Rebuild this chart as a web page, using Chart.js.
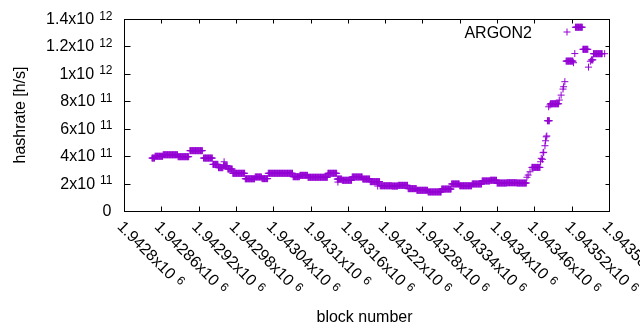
<!DOCTYPE html>
<html><head><meta charset="utf-8">
<script src="https://cdn.jsdelivr.net/npm/chart.js@4/dist/chart.umd.min.js"></script>
<style>html,body{margin:0;padding:0;background:#fff}#wrap{width:640px;height:330px}</style>
</head><body><div id="wrap"><canvas id="c" width="640" height="330"></canvas></div>
<script>
const BASE = 1942800;
const seriesName = "ARGON2";
// runs of consecutive blocks sharing one hashrate value (block offset from BASE, inclusive; hashrate in 1e9 h/s)
const segFrom = [45,50,63,87,106,128,143,152,160,167,175,195,211,222,232,272,283,296,328,343,351,367,384,396,412,431,441,457,471,489,511,527,540,560,576,589,600,616,632,656,681,686,711,726,738,752,755];
const segTo   = [49,62,86,104,126,142,151,159,166,174,194,210,221,231,271,282,295,327,342,350,366,383,395,411,430,440,456,470,488,510,526,539,559,575,588,599,615,631,647,669,684,699,722,737,746,754,769];
const segHash = [386,399,410,396,440,386,340,316,330,306,275,235,248,236,275,250,260,246,275,233,224,248,233,214,184,182,187,163,151,139,160,197,184,197,219,224,204,206,204,318,658,782,1093,1340,1179,1102,1147];
// single blocks (offset from BASE, hashrate in 1e9 h/s)
const ptBlock = [161,344,408,648,650,653,670,671,673,674,675,677,678,679,680,683,685,700,703,706,707,709,723,725,747,750,773];
const ptHash  = [359,211,182,246,262,286,359,384,377,425,428,476,512,541,547,760,773,809,845,889,906,943,1081,1148,1049,1092,1147];
// axis ticks
const xTickValues = [1942800,1942860,1942920,1942980,1943040,1943100,1943160,1943220,1943280,1943340,1943400,1943460,1943520,1943580];
const xTickMantissa = ["1.9428x10","1.94286x10","1.94292x10","1.94298x10","1.94304x10","1.9431x10","1.94316x10","1.94322x10","1.94328x10","1.94334x10","1.9434x10","1.94346x10","1.94352x10","1.94358x10"];
const xTickExp = "6";
const yTickValues = [0,2e11,4e11,6e11,8e11,1e12,1.2e12,1.4e12];
const yTickMantissa = ["0","2x10","4x10","6x10","8x10","1x10","1.2x10","1.4x10"];
const yTickExp = ["","11","11","11","11","12","12","12"];
const xTitle = "block number";
const yTitle = "hashrate [h/s]";

const COLOR = "#9400d3";
const FONT = "'Liberation Sans', Arial, sans-serif";
const FS = 16, SS = 12;

const points = [];
for (let i = 0; i < segFrom.length; i++) {
  for (let b = segFrom[i]; b <= segTo[i]; b++) points.push({x: BASE + b, y: segHash[i] * 1e9});
}
for (let i = 0; i < ptBlock.length; i++) points.push({x: BASE + ptBlock[i], y: ptHash[i] * 1e9});

const frame = {
  id: 'frame',
  afterDraw(chart) {
    const ctx = chart.ctx, a = chart.chartArea;
    const xs = chart.scales.x, ys = chart.scales.y;
    const L = Math.round(a.left) + 0.5, R = Math.round(a.right) + 0.5;
    const T = Math.round(a.top) + 0.5, B = Math.round(a.bottom) + 0.5;
    ctx.save();
    ctx.strokeStyle = '#000'; ctx.lineWidth = 1;
    ctx.strokeRect(L, T, R - L, B - T);
    ctx.beginPath();
    yTickValues.forEach(v => {
      const y = Math.round(ys.getPixelForValue(v)) + 0.5;
      ctx.moveTo(L, y); ctx.lineTo(L + 6, y);
      ctx.moveTo(R, y); ctx.lineTo(R - 4, y);
    });
    xTickValues.forEach(v => {
      const x = Math.round(xs.getPixelForValue(v)) + 0.5;
      ctx.moveTo(x, B); ctx.lineTo(x, B - 5);
      ctx.moveTo(x, T); ctx.lineTo(x, T + 4);
    });
    ctx.stroke();
    ctx.fillStyle = '#000';
    // y tick labels
    yTickValues.forEach((v, i) => {
      const y = ys.getPixelForValue(v);
      const right = 112.5;
      ctx.textBaseline = 'alphabetic';
      ctx.textAlign = 'right';
      if (yTickExp[i]) {
        ctx.font = SS + 'px ' + FONT;
        ctx.fillText(yTickExp[i], right, y + 0.5);
        const w = ctx.measureText(yTickExp[i]).width;
        ctx.font = FS + 'px ' + FONT;
        ctx.fillText(yTickMantissa[i], right - w - 5, y + 5);
      } else {
        ctx.font = FS + 'px ' + FONT;
        ctx.fillText(yTickMantissa[i], right - 1, y + 5);
      }
    });
    // x tick labels, rotated
    xTickValues.forEach((v, i) => {
      const x = xs.getPixelForValue(v);
      ctx.save();
      ctx.translate(x - 4, a.bottom + 13);
      ctx.rotate(Math.PI / 4);
      ctx.textAlign = 'left'; ctx.textBaseline = 'alphabetic';
      ctx.font = FS + 'px ' + FONT;
      ctx.fillText(xTickMantissa[i], 0, 5);
      const w = ctx.measureText(xTickMantissa[i]).width;
      ctx.font = SS + 'px ' + FONT;
      ctx.fillText(xTickExp, w + 5, 1);
      ctx.restore();
    });
    // axis titles
    ctx.font = FS + 'px ' + FONT;
    ctx.textAlign = 'center'; ctx.textBaseline = 'alphabetic';
    ctx.fillText(xTitle, (a.left + a.right) / 2 - 2, 321.5);
    ctx.save();
    ctx.translate(25, (a.top + a.bottom) / 2);
    ctx.rotate(-Math.PI / 2);
    ctx.fillText(yTitle, 0, 0);
    ctx.restore();
    // key
    ctx.textAlign = 'right';
    ctx.fillText(seriesName, 532, 37.5);
    ctx.strokeStyle = COLOR;
    ctx.beginPath();
    ctx.moveTo(567, 28.5); ctx.lineTo(567, 35.5);
    ctx.moveTo(563.5, 32); ctx.lineTo(570.5, 32);
    ctx.stroke();
    ctx.restore();
  }
};

new Chart(document.getElementById('c'), {
  type: 'scatter',
  data: { datasets: [{ label: seriesName, data: points, pointStyle: 'cross', pointRadius: 3.5, pointHoverRadius: 3.5,
    borderColor: COLOR, backgroundColor: COLOR, borderWidth: 1, showLine: false }] },
  options: {
    responsive: false, animation: false, devicePixelRatio: 1,
    layout: { padding: { left: 124, right: 31, top: 19, bottom: 119 } },
    scales: {
      x: { type: 'linear', min: 1942800, max: 1943580, display: false },
      y: { type: 'linear', min: 0, max: 1.4e12, display: false }
    },
    plugins: { legend: { display: false }, tooltip: { enabled: false } },
    events: []
  },
  plugins: [frame]
});
</script>
</body></html>
